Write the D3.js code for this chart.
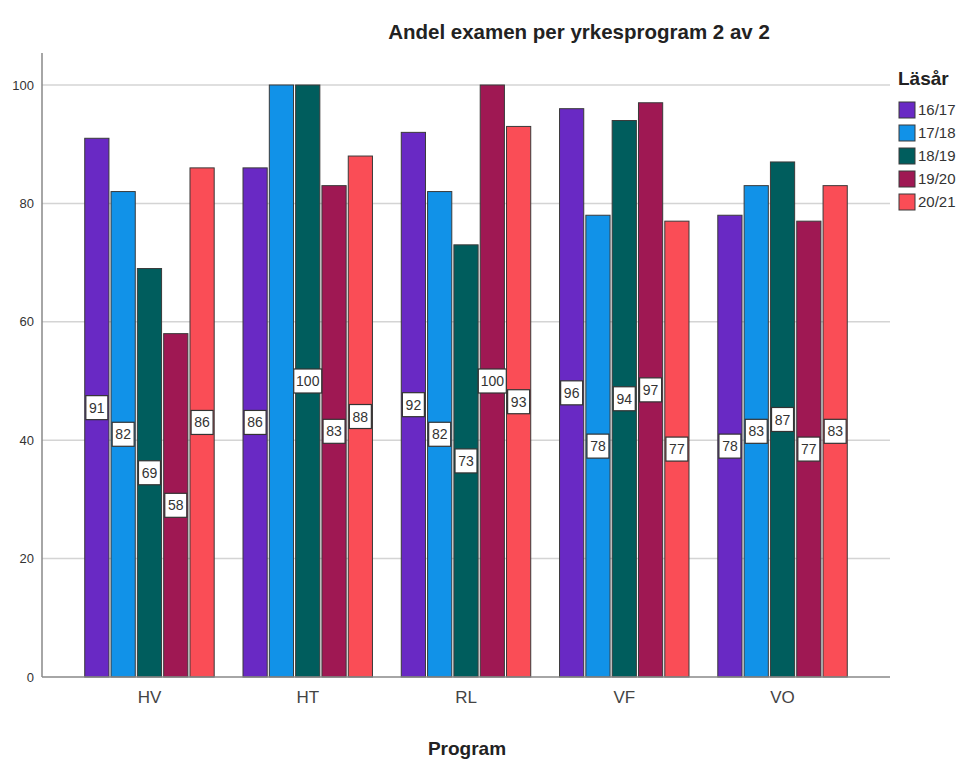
<!DOCTYPE html>
<html><head><meta charset="utf-8">
<script src="https://cdn.jsdelivr.net/npm/d3@7"></script>
<style>
html,body{margin:0;padding:0;background:#fff;}
svg{display:block;}
text{font-family:"Liberation Sans",Arial,sans-serif;}
</style></head>
<body>
<svg id="chart" width="961" height="763"></svg>
<script>
const programs = ["HV", "HT", "RL", "VF", "VO"];
const years = ["16/17", "17/18", "18/19", "19/20", "20/21"];
const v1617 = [91, 86, 92, 96, 78];
const v1718 = [82, 100, 82, 78, 83];
const v1819 = [69, 100, 73, 94, 87];
const v1920 = [58, 83, 100, 97, 77];
const v2021 = [86, 88, 93, 77, 83];
const yTicks = [0, 20, 40, 60, 80, 100];
const colors = ["#6929c4", "#1192e8", "#005d5d", "#9f1853", "#fa4d56"];
const series = [v1617, v1718, v1819, v1920, v2021];

const svg = d3.select("#chart");
const L = 42, R = 890, T = 53, B = 677;

const y = d3.scaleLinear().domain([0, 100]).range([B, 85]);
const x0 = d3.scaleBand().domain(programs).range([L, R]).paddingInner(0.182).paddingOuter(0.27);
const x1 = d3.scaleBand().domain(years).range([0, x0.bandwidth()]).paddingInner(0.08);
const color = d3.scaleOrdinal().domain(years).range(colors);

// gridlines
svg.append("g").selectAll("line").data(yTicks.filter(d => d > 0)).join("line")
  .attr("x1", L).attr("x2", R).attr("y1", d => y(d)).attr("y2", d => y(d))
  .attr("stroke", "#d4d4d4").attr("stroke-width", 1.5);

// y axis
const yAxis = d3.axisLeft(y).tickValues(yTicks).tickSize(0).tickPadding(8);
const gy = svg.append("g").attr("transform", `translate(${L},0)`).call(yAxis);
gy.select(".domain").remove();
gy.selectAll("text").attr("font-size", 13).attr("fill", "#333");
svg.append("line").attr("x1", L).attr("x2", L).attr("y1", T).attr("y2", B)
  .attr("stroke", "#888").attr("stroke-width", 1.5);

// bars
const rows = [];
programs.forEach((p, i) => years.forEach((yr, j) => rows.push({p, yr, v: series[j][i]})));

const bars = svg.append("g");
bars.selectAll("rect").data(rows).join("rect")
  .attr("x", d => x0(d.p) + x1(d.yr))
  .attr("y", d => y(d.v))
  .attr("width", x1.bandwidth())
  .attr("height", d => B - y(d.v))
  .attr("fill", d => color(d.yr))
  .attr("stroke", "#3a3a3a").attr("stroke-width", 1);

// x axis
svg.append("line").attr("x1", L).attr("x2", R).attr("y1", B).attr("y2", B)
  .attr("stroke", "#888").attr("stroke-width", 1.5);
const xAxis = d3.axisBottom(x0).tickSize(0).tickPadding(14);
const gx = svg.append("g").attr("transform", `translate(0,${B})`).call(xAxis);
gx.select(".domain").remove();
gx.selectAll("text").attr("font-size", 17).attr("fill", "#444");

// value labels (later labels win when boxes overlap, as in the source)
rows.forEach(d => {
  d.cx = x0(d.p) + x1(d.yr) + x1.bandwidth() / 2;
  d.cy = (y(d.v) + B) / 2;
  d.w = d.v >= 100 ? 28 : 22;
  d.h = 24;
});
const kept = [];
for (let k = rows.length - 1; k >= 0; k--) {
  const d = rows[k];
  const hit = kept.some(o => Math.abs(o.cx - d.cx) < (o.w + d.w) / 2 && Math.abs(o.cy - d.cy) < (o.h + d.h) / 2);
  if (!hit) kept.push(d);
}
const lab = svg.append("g").selectAll("g").data(kept).join("g")
  .attr("transform", d => `translate(${d.cx},${d.cy})`);
lab.append("rect")
  .attr("x", d => -d.w / 2).attr("y", d => -d.h / 2)
  .attr("width", d => d.w).attr("height", d => d.h)
  .attr("fill", "#fff").attr("stroke", "#333").attr("stroke-width", 1.2);
lab.append("text").text(d => d.v)
  .attr("text-anchor", "middle").attr("dy", "0.36em")
  .attr("font-size", 14).attr("fill", "#333");

// title
svg.append("text").attr("x", 579).attr("y", 39).attr("text-anchor", "middle")
  .attr("font-size", 20.5).attr("font-weight", "bold").attr("fill", "#222")
  .text("Andel examen per yrkesprogram 2 av 2");

// x axis title
svg.append("text").attr("x", 467).attr("y", 755).attr("text-anchor", "middle")
  .attr("font-size", 19).attr("font-weight", "bold").attr("fill", "#222")
  .text("Program");

// legend
const lg = svg.append("g").attr("transform", "translate(898,0)");
lg.append("text").attr("x", 0).attr("y", 85).attr("font-size", 19).attr("font-weight", "bold")
  .attr("fill", "#222").text("Läsår");
const li = lg.selectAll("g.item").data(years).join("g").attr("class", "item")
  .attr("transform", (d, i) => `translate(0,${102 + i * 23})`);
li.append("rect").attr("x", 1).attr("y", 0).attr("width", 16).attr("height", 16)
  .attr("fill", d => color(d)).attr("stroke", "#3a3a3a").attr("stroke-width", 1);
li.append("text").attr("x", 20).attr("y", 8).attr("dy", "0.36em")
  .attr("font-size", 15).attr("fill", "#333").text(d => d);
</script>
</body></html>
